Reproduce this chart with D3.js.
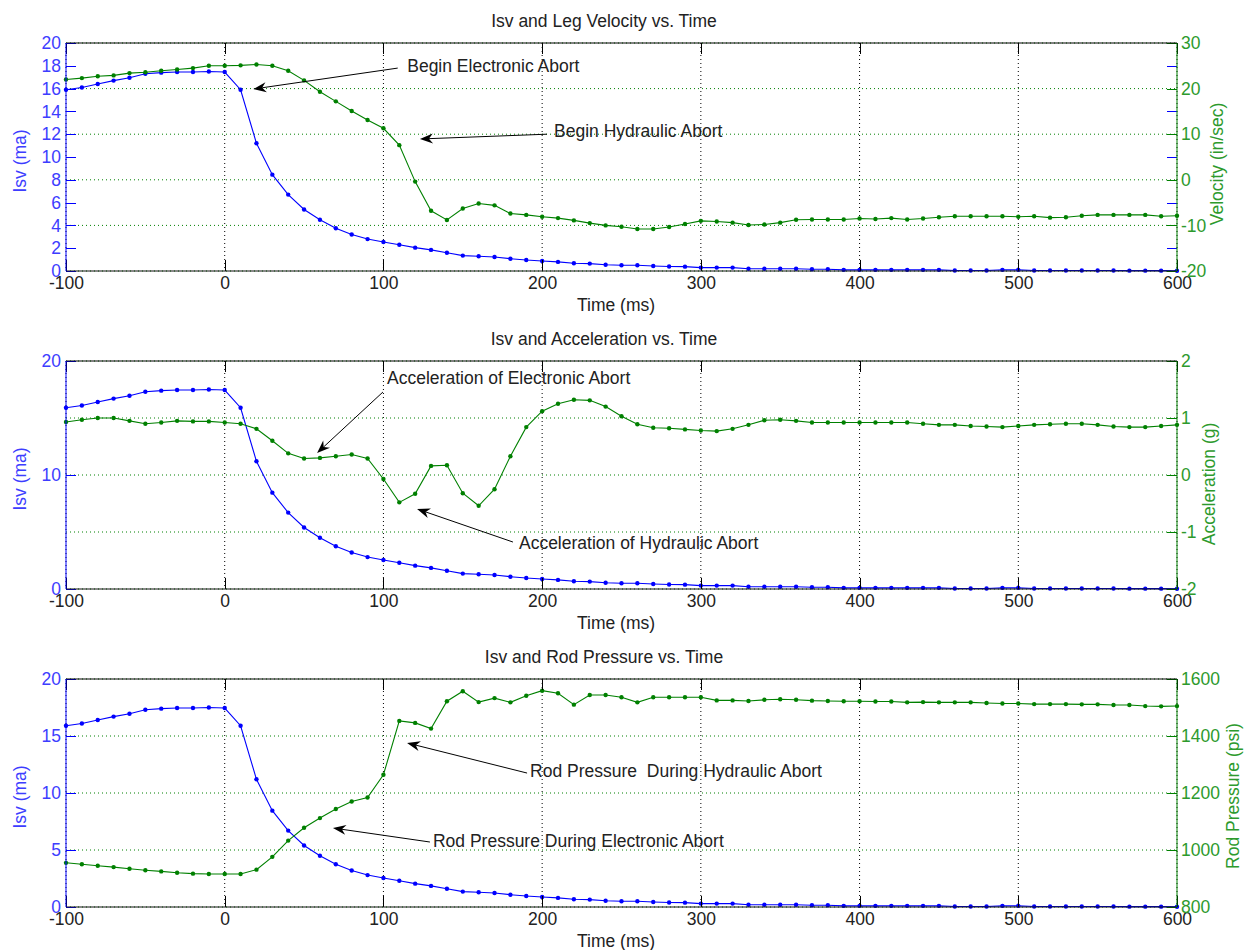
<!DOCTYPE html>
<html>
<head>
<meta charset="utf-8">
<script src="https://cdn.jsdelivr.net/npm/d3@7"></script>
<style>
  body { margin: 0; background: #fff; }
  svg { display: block; font-family: "Liberation Sans", Arial, sans-serif; }
  .tick line { shape-rendering: crispEdges; }
</style>
</head>
<body>
<svg id="chart" width="1248" height="950"></svg>
<script>
// sample times (ms)
const time = [-100, -90, -80, -70, -60, -50, -40, -30, -20, -10, 0,
  10, 20, 30, 40, 50, 60, 70, 80, 90, 100,
  110, 120, 130, 140, 150, 160, 170, 180, 190, 200,
  210, 220, 230, 240, 250, 260, 270, 280, 290, 300,
  310, 320, 330, 340, 350, 360, 370, 380, 390, 400,
  410, 420, 430, 440, 450, 460, 470, 480, 490, 500,
  510, 520, 530, 540, 550, 560, 570, 580, 590, 600];

// Isv (ma), same trace in all three plots
const isv = [15.9, 16.1, 16.4, 16.7, 16.95, 17.3, 17.4, 17.45, 17.45, 17.5, 17.45,
  15.9, 11.2, 8.45, 6.7, 5.4, 4.5, 3.75, 3.2, 2.8, 2.55,
  2.3, 2.05, 1.85, 1.6, 1.35, 1.3, 1.23, 1.08, 0.96, 0.88,
  0.8, 0.68, 0.65, 0.55, 0.5, 0.5, 0.44, 0.4, 0.38, 0.3,
  0.3, 0.3, 0.2, 0.2, 0.2, 0.2, 0.15, 0.15, 0.1, 0.1,
  0.1, 0.1, 0.1, 0.1, 0.1, 0.05, 0.05, 0.05, 0.1, 0.1,
  0.05, 0.05, 0.05, 0.05, 0.05, 0.05, 0.03, 0.03, 0.03, 0.02];

// leg velocity (in/sec)
const velocity = [22.0, 22.3, 22.7, 22.9, 23.4, 23.6, 23.9, 24.2, 24.5, 25.0, 25.0,
  25.1, 25.3, 25.0, 23.9, 21.8, 19.3, 17.2, 15.1, 13.1, 11.3,
  7.6, -0.4, -6.8, -8.8, -6.3, -5.2, -5.6, -7.4, -7.7, -8.1,
  -8.4, -8.9, -9.5, -10.0, -10.3, -10.8, -10.8, -10.35, -9.7, -9.0,
  -9.15, -9.4, -9.9, -9.8, -9.4, -8.75, -8.7, -8.7, -8.7, -8.5,
  -8.6, -8.4, -8.7, -8.5, -8.2, -8.0, -8.0, -8.0, -8.0, -8.1,
  -8.0, -8.3, -8.2, -7.9, -7.7, -7.7, -7.7, -7.7, -8.0, -7.9];

// acceleration (g)
const accel = [0.93, 0.97, 1.0, 1.0, 0.95, 0.9, 0.92, 0.95, 0.94, 0.94, 0.92,
  0.9, 0.81, 0.6, 0.38, 0.29, 0.3, 0.33, 0.36, 0.29, -0.07,
  -0.48, -0.33, 0.16, 0.17, -0.32, -0.54, -0.25, 0.33, 0.84, 1.12,
  1.25, 1.32, 1.31, 1.2, 1.03, 0.89, 0.83, 0.82, 0.8, 0.78,
  0.77, 0.81, 0.88, 0.96, 0.97, 0.95, 0.92, 0.92, 0.92, 0.92,
  0.92, 0.92, 0.92, 0.9, 0.88, 0.88, 0.86, 0.85, 0.84, 0.86,
  0.88, 0.89, 0.9, 0.9, 0.88, 0.85, 0.84, 0.84, 0.86, 0.88];

// rod pressure (psi)
const pressure = [955, 950, 945, 940, 934, 929, 925, 920, 917, 916, 916,
  916, 931, 976, 1033, 1078, 1112, 1144, 1170, 1184, 1264,
  1453, 1446, 1426, 1522, 1557, 1519, 1533, 1518, 1541, 1559,
  1550, 1510, 1544, 1544, 1536, 1518, 1536, 1536, 1536, 1536,
  1525, 1525, 1523, 1527, 1529, 1527, 1524, 1523, 1522, 1522,
  1521, 1521, 1518, 1519, 1518, 1518, 1518, 1516, 1514, 1514,
  1512, 1512, 1512, 1511, 1511, 1509, 1509, 1505, 1504, 1505];

const xTicks = [-100, 0, 100, 200, 300, 400, 500, 600];
const titles = ["Isv and Leg Velocity vs. Time", "Isv and Acceleration vs. Time", "Isv and Rod Pressure vs. Time"];
const rightLabels = ["Velocity (in/sec)", "Acceleration (g)", "Rod Pressure (psi)"];
const leftTicks = [[0, 2, 4, 6, 8, 10, 12, 14, 16, 18, 20], [0, 10, 20], [0, 5, 10, 15, 20]];
const rightTicks = [[-20, -10, 0, 10, 20, 30], [-2, -1, 0, 1, 2], [800, 1000, 1200, 1400, 1600]];
const rightDomains = [[-20, 30], [-2, 2], [800, 1600]];
const rightSeries = [velocity, accel, pressure];

// annotations: [text, textX(ms), textY(ma), tailX, tailY, headX, headY]
const notes = [
  [["Begin Electronic Abort", 115, 17.48, 109, 17.8, 18, 15.96],
   ["Begin Hydraulic Abort", 207.5, 11.75, 203, 12.0, 123, 11.58]],
  [["Acceleration of Electronic Abort", 102.3, 17.98, 99.7, 17.28, 58.2, 11.93],
   ["Acceleration of Hydraulic Abort", 185.4, 3.48, 181.6, 4.12, 121.2, 7.02]],
  [["Rod Pressure  During Hydraulic Abort", 192.4, 11.38, 190.5, 11.75, 114.9, 14.39],
   ["Rod Pressure During Electronic Abort", 131.2, 5.24, 129.3, 5.7, 68.2, 6.93]]
];

const blue = "#0000ff", green = "#008000";
const blueText = "#3d3dff", greenText = "#2d9a2d", fs = "17.5px";
const fmt = d => String(d);

const left = 66, right = 1177;
const panelTop = [43, 361, 679], panelH = 228;
const titleY = [26.5, 345, 663];
const rLabelX = [1223, 1215, 1239];
const rLabelDy = [7, 9, 3];

const svg = d3.select("#chart");
svg.append("rect").attr("width", 1248).attr("height", 950).attr("fill", "#fff");

const x = d3.scaleLinear().domain([-100, 600]).range([left, right]);

titles.forEach((title, i) => {
  const top = panelTop[i], bottom = top + panelH;
  const yL = d3.scaleLinear().domain([0, 20]).range([bottom, top]);
  const yR = d3.scaleLinear().domain(rightDomains[i]).range([bottom, top]);
  const g = svg.append("g");

  // grid
  g.append("g").selectAll("line").data(xTicks).join("line")
    .attr("x1", d => x(d)).attr("x2", d => x(d))
    .attr("y1", top).attr("y2", bottom)
    .attr("stroke", "#000").attr("stroke-dasharray", "1,3");
  g.append("g").selectAll("line").data(rightTicks[i]).join("line")
    .attr("x1", left).attr("x2", right)
    .attr("y1", d => yR(d)).attr("y2", d => yR(d))
    .attr("stroke", green).attr("stroke-dasharray", "1,3");

  // series
  const series = [[isv, yL, blue], [rightSeries[i], yR, green]];
  series.forEach(([vals, ys, col]) => {
    const pts = vals.map((v, j) => [time[j], v]);
    g.append("path").datum(pts)
      .attr("fill", "none").attr("stroke", col).attr("stroke-width", 1.1)
      .attr("d", d3.line().x(d => x(d[0])).y(d => ys(d[1])));
    g.append("g").selectAll("circle").data(pts).join("circle")
      .attr("cx", d => x(d[0])).attr("cy", d => ys(d[1]))
      .attr("r", 2.2).attr("fill", col);
  });

  // axes
  const xb = g.append("g").attr("transform", `translate(0,${bottom})`)
    .call(d3.axisBottom(x).tickValues(xTicks).tickFormat(fmt).tickSizeInner(-11).tickSizeOuter(0).tickPadding(5.5));
  xb.selectAll("text").attr("fill", "#222").style("font-size", fs);
  g.append("g").attr("transform", `translate(0,${top})`)
    .call(d3.axisTop(x).tickValues(xTicks).tickSizeInner(-11).tickSizeOuter(0).tickFormat(""));

  const yl = g.append("g").attr("transform", `translate(${left},0)`)
    .call(d3.axisLeft(yL).tickValues(leftTicks[i]).tickFormat(fmt).tickSizeInner(-10).tickSizeOuter(0).tickPadding(5));
  yl.selectAll("line").attr("stroke", blue);
  yl.selectAll("text").attr("fill", blueText).style("font-size", fs);
  const ylm = g.append("g").attr("transform", `translate(${right},0)`)
    .call(d3.axisRight(yL).tickValues(leftTicks[i]).tickSizeInner(-10).tickSizeOuter(0).tickFormat(""));
  ylm.selectAll("line").attr("stroke", blue);

  const yr = g.append("g").attr("transform", `translate(${right},0)`)
    .call(d3.axisRight(yR).tickValues(rightTicks[i]).tickFormat(fmt).tickSizeInner(-10).tickSizeOuter(0).tickPadding(4));
  yr.selectAll("line").attr("stroke", green);
  yr.selectAll("text").attr("fill", greenText).style("font-size", fs);

  g.selectAll(".domain").remove();
  // box
  g.append("line").attr("x1", left).attr("x2", right).attr("y1", top).attr("y2", top).attr("stroke", "#000");
  g.append("line").attr("x1", left).attr("x2", right).attr("y1", bottom).attr("y2", bottom).attr("stroke", "#111");
  g.append("line").attr("x1", left).attr("x2", left).attr("y1", top).attr("y2", bottom).attr("stroke", blue);
  g.append("line").attr("x1", right).attr("x2", right).attr("y1", top).attr("y2", bottom).attr("stroke", green);

  // labels
  g.append("text").attr("x", 604).attr("y", titleY[i]).attr("text-anchor", "middle")
    .attr("fill", "#222").style("font-size", fs).text(title);
  g.append("text").attr("x", 616).attr("y", bottom + 40).attr("text-anchor", "middle")
    .attr("fill", "#222").style("font-size", fs).text("Time (ms)");
  g.append("text").attr("transform", `translate(26,${(top + bottom) / 2 + 4}) rotate(-90)`)
    .attr("text-anchor", "middle").attr("fill", blueText).style("font-size", fs).text("Isv (ma)");
  g.append("text").attr("transform", `translate(${rLabelX[i]},${(top + bottom) / 2 + rLabelDy[i]}) rotate(-90)`)
    .attr("text-anchor", "middle").attr("fill", greenText).style("font-size", fs).text(rightLabels[i]);

  // annotations with arrows
  notes[i].forEach(([txt, tx, ty, ax, ay, hx, hy]) => {
    const x1 = x(ax), y1 = yL(ay), x2 = x(hx), y2 = yL(hy);
    const ang = Math.atan2(y2 - y1, x2 - x1);
    const len = 13, half = 5, notch = 9;
    const ux = Math.cos(ang), uy = Math.sin(ang);
    const bx = x2 - ux * len, by = y2 - uy * len;
    const nx = x2 - ux * notch, ny = y2 - uy * notch;
    g.append("line").attr("x1", x1).attr("y1", y1).attr("x2", nx).attr("y2", ny)
      .attr("stroke", "#000").attr("stroke-width", 1);
    g.append("path")
      .attr("d", `M${x2},${y2}L${bx - uy * half},${by + ux * half}L${nx},${ny}L${bx + uy * half},${by - ux * half}Z`)
      .attr("fill", "#000");
    g.append("text").attr("x", x(tx)).attr("y", yL(ty)).attr("fill", "#222")
      .style("font-size", fs).style("white-space", "pre").text(txt);
  });
});
</script>
</body>
</html>
